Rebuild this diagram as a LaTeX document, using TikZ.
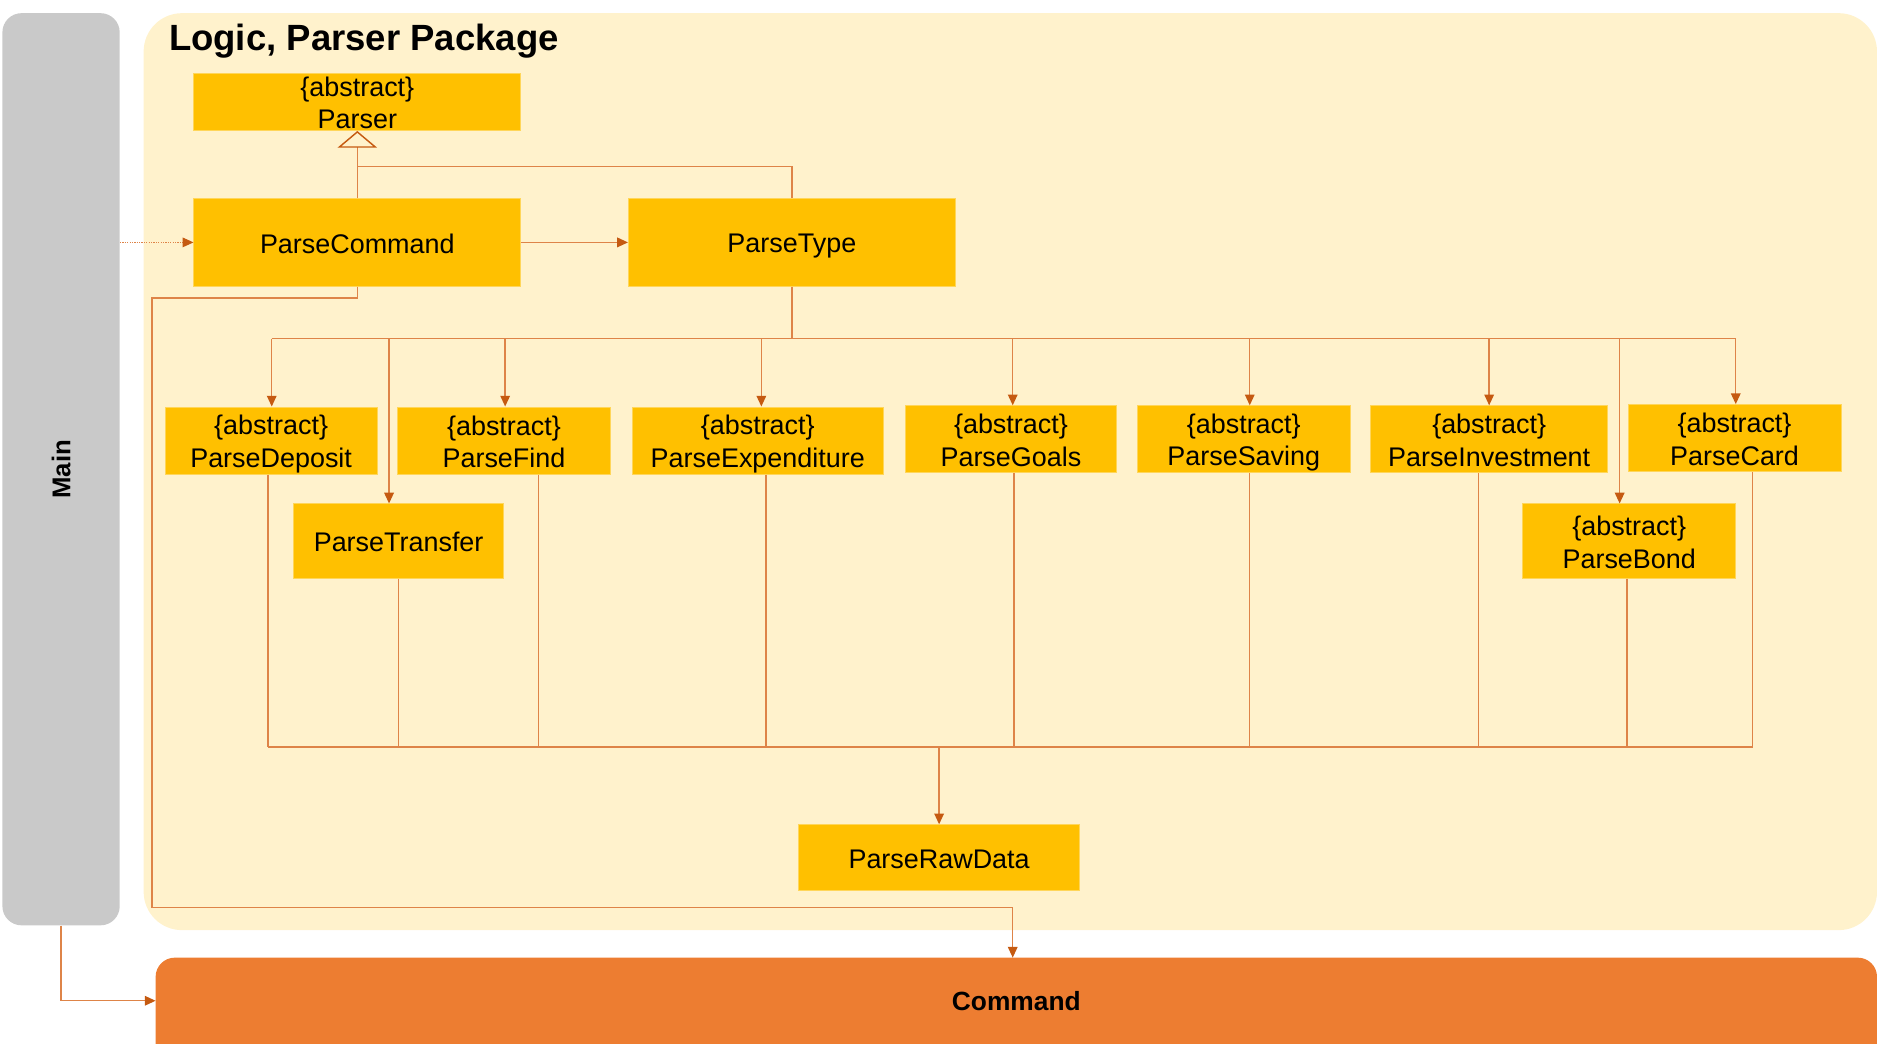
\documentclass[tikz,border=0pt]{standalone}
\usepackage{fontspec}
\setmainfont{Liberation Sans}
\usetikzlibrary{arrows.meta}
\definecolor{pkgfill}{RGB}{255,242,204}
\definecolor{mainfill}{RGB}{201,201,201}
\definecolor{boxfill}{RGB}{255,192,0}
\definecolor{boxedge}{RGB}{255,214,90}
\definecolor{cmdfill}{RGB}{237,125,49}
\definecolor{linec}{RGB}{222,132,72}
\definecolor{tipc}{RGB}{197,90,17}
\newcommand\lnst{\rule[-4pt]{0pt}{26pt}}
\newcommand\smst{\rule[-1.5pt]{0pt}{21pt}}
\tikzset{
  cls/.style={fill=boxfill, draw=boxedge, line width=0.8pt, align=center, inner sep=0pt,
    font=\fontsize{22.5}{27}\selectfont},
  conn/.style={draw=linec, line width=1.2pt},
  arr/.style={conn, -{Triangle[length=9pt,width=8pt,color=tipc,fill=tipc]}},
  gen/.style={conn, -{Triangle[open,length=14pt,width=33pt,color=tipc,fill=pkgfill,line width=1.2pt]}},
}
\begin{document}
\begin{tikzpicture}[x=1pt,y=-1pt]
\useasboundingbox (0,0) rectangle (1568,872);
% containers
\node[fill=mainfill, rounded corners=16pt, minimum width=98pt, minimum height=762pt, inner sep=0pt] (main) at (51,392) {};
\node[rotate=90, font=\bfseries\fontsize{21.5}{25}\selectfont] (mainlbl) at (51,392) {Main};
\node[fill=pkgfill, rounded corners=32pt, minimum width=1448pt, minimum height=766pt, inner sep=0pt] (pkg) at (844,394) {};
\node[anchor=base west, font=\bfseries\fontsize{30.5}{36}\selectfont, inner sep=0pt] (title) at (141,42.5) {Logic, Parser Package};
\begin{scope}
\clip (0,0) rectangle (1568,872);
\node[fill=cmdfill, rounded corners=16pt, minimum width=1438pt, minimum height=90pt, inner sep=0pt] (cmdbox) at (849,845) {};
\end{scope}
\coordinate (command) at (849,836);
\coordinate (cmdtop) at (849,800);
\coordinate (cmdwest) at (130,836);
\node[font=\bfseries\fontsize{22}{26}\selectfont] (cmdlbl) at (849,836) {Command};
% classes
\node[cls, minimum width=273pt, minimum height=48pt] (parser) at (298.5,85) {\smst\{abstract\}\\\smst Parser};
\node[cls, minimum width=273pt, minimum height=73pt] (pcmd) at (298.5,202.5) {\lnst ParseCommand};
\node[cls, minimum width=273pt, minimum height=73pt] (ptype) at (661.5,202.5) {\lnst ParseType};
\node[cls, minimum width=177pt, minimum height=56pt] (pdep) at (226.5,368) {\lnst\{abstract\}\\\lnst ParseDeposit};
\node[cls, minimum width=178pt, minimum height=56pt] (pfind) at (421,368) {\lnst\{abstract\}\\\lnst ParseFind};
\node[cls, minimum width=210pt, minimum height=56pt] (pexp) at (633,368) {\lnst\{abstract\}\\\lnst ParseExpenditure};
\node[cls, minimum width=177pt, minimum height=56pt] (pgoals) at (844.5,367) {\lnst\{abstract\}\\\lnst ParseGoals};
\node[cls, minimum width=178pt, minimum height=56pt] (psav) at (1039,367) {\lnst\{abstract\}\\\lnst ParseSaving};
\node[cls, minimum width=198pt, minimum height=56pt] (pinv) at (1244,367) {\lnst\{abstract\}\\\lnst ParseInvestment};
\node[cls, minimum width=178pt, minimum height=56pt] (pcard) at (1449,366) {\lnst\{abstract\}\\\lnst ParseCard};
\node[cls, minimum width=176pt, minimum height=62pt] (ptrans) at (333,452) {\lnst ParseTransfer};
\node[cls, minimum width=178pt, minimum height=62pt] (pbond) at (1361,452) {\lnst\{abstract\}\\\lnst ParseBond};
\node[cls, minimum width=235pt, minimum height=55pt] (praw) at (784.5,716.5) {\lnst ParseRawData};
% generalisation
\coordinate (gj) at (298.5,139);
\draw[gen] (pcmd.north) -- (parser.south);
\draw[conn] (ptype.north) |- (gj);
% main to parsecommand, parsecommand to parsetype
\draw[arr, dash pattern=on 1pt off 1pt, line width=0.8pt] (main.east |- pcmd.west) -- (pcmd.west);
\draw[arr] (pcmd.east) -- (ptype.west);
% top bus
\coordinate (tbL) at (227,283);
\coordinate (tbR) at (1450,283);
\draw[conn] (ptype.south) -- (ptype.south |- tbL);
\draw[conn] (tbL) -- (tbR);
\foreach \n/\dx in {pdep/0.5, ptrans/-8, pfind/1, pexp/3, pgoals/1.5, psav/5, pinv/0, pbond/-8, pcard/1}{
  \coordinate (tt) at ([xshift=\dx pt]\n.north);
  \draw[arr] (tt |- tbL) -- (tt);
}
% bottom bus
\coordinate (bbL) at (224,624);
\coordinate (bbR) at (1464,624);
\draw[conn] (bbL) -- (bbR);
\foreach \n/\dx in {pdep/-2.5, ptrans/0, pfind/29, pexp/7, pgoals/2.5, psav/5, pinv/-9, pbond/-2, pcard/15}{
  \coordinate (bt) at ([xshift=\dx pt]\n.south);
  \draw[conn] (bt) -- (bt |- bbL);
}
\draw[arr] (praw.north |- bbL) -- (praw.north);
% parsecommand to command
\coordinate (c1) at (127,249);
\coordinate (c2) at (846,758);
\draw[arr] (pcmd.south) |- (c1) |- (c2) -- (c2 |- cmdtop);
% main to command
\draw[arr] (main.south) |- (cmdwest);
\end{tikzpicture}
\end{document}
